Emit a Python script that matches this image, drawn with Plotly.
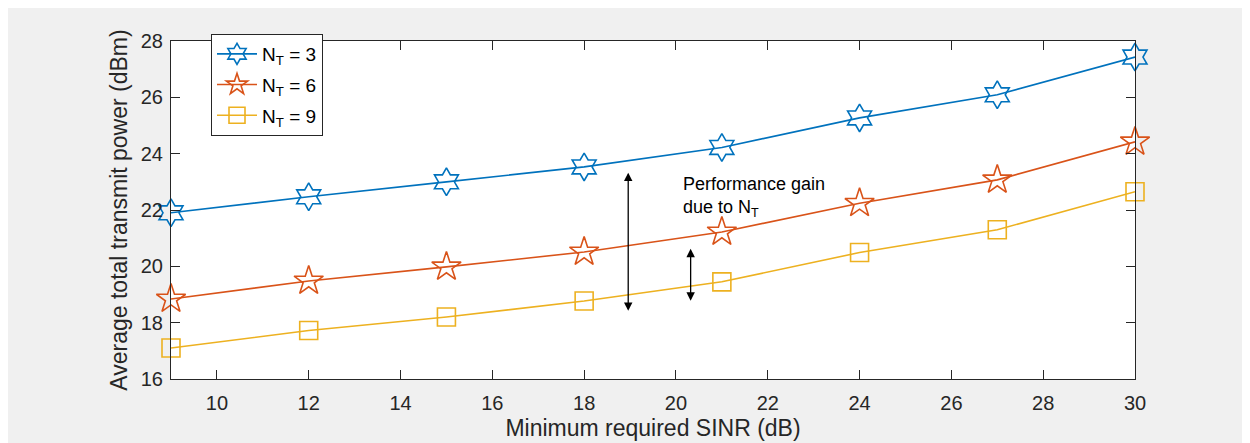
import plotly.graph_objects as go

sinr = [9, 12, 15, 18, 21, 24, 27, 30]
p_nt3 = [21.9, 22.47, 23.0, 23.53, 24.22, 25.27, 26.09, 27.43]
p_nt6 = [18.84, 19.48, 19.98, 20.51, 21.22, 22.24, 23.07, 24.42]
p_nt9 = [17.1, 17.72, 18.2, 18.77, 19.45, 20.49, 21.3, 22.65]
series_names = ["N<sub>T</sub> = 3", "N<sub>T</sub> = 6", "N<sub>T</sub> = 9"]
colors = ["#0072BD", "#D95319", "#EDB120"]
symbols = ["hexagram-open", "star-open", "square-open"]
sizes = [21, 22, 18]

FONT = "Liberation Sans, Arial"

fig = go.Figure()
for i, (ys, name, c, s, sz) in enumerate(zip([p_nt3, p_nt6, p_nt9], series_names, colors, symbols, sizes)):
    fig.add_trace(go.Scatter(
        x=sinr, y=ys, mode="lines+markers", name=name, legendgroup=f"g{i}",
        line=dict(color=c, width=1.6), cliponaxis=False,
        marker=dict(symbol=s, size=sz, color=c, line=dict(color=c, width=1.6)),
    ))

# double-headed arrows
for (xa, y0, y1) in [(18.96, 23.38, 18.42), (20.32, 20.68, 18.78)]:
    fig.add_annotation(x=xa, y=y1, ax=xa, ay=y0, xref="x", yref="y", axref="x", ayref="y",
                       showarrow=True, arrowhead=2, startarrowhead=2, arrowside="end+start",
                       arrowsize=1.3, arrowwidth=1.3, arrowcolor="black", text="")

fig.add_annotation(x=20.12, y=22.45, xref="x", yref="y", xanchor="left", yanchor="middle",
                   text="Performance gain<br>due to N<sub>T</sub>", showarrow=False, align="left",
                   font=dict(size=18, color="#000000", family=FONT))

W, H = 1250, 443
L, R, T, B = 163, 123, 33, 72
pw, ph = W - L - R, H - T - B

axis_common = dict(showgrid=False, zeroline=False, showline=True, linecolor="#262626", linewidth=1,
                   ticks="inside", ticklen=9, tickcolor="#262626", mirror="allticks",
                   tickfont=dict(size=20, color="#262626", family=FONT))
fig.update_xaxes(range=[9, 30], tickvals=list(range(10, 31, 2)),
                 title=dict(text="Minimum required SINR (dB)", font=dict(size=23, color="#262626",
                            family=FONT), standoff=6),
                 ticklabelstandoff=6, **axis_common)
fig.update_yaxes(range=[16, 28], tickvals=list(range(16, 29, 2)),
                 title=dict(text="Average total transmit power (dBm)", font=dict(size=23, color="#262626",
                            family=FONT), standoff=6),
                 ticklabelstandoff=3, **axis_common)

fig.update_layout(
    width=W, height=H, margin=dict(l=L, r=R, t=T, b=B),
    paper_bgcolor="#f0f0f0", plot_bgcolor="white",
    font=dict(family=FONT, color="#262626"),
    legend=dict(x=(203 - L) / pw, y=1 + 7 / ph, xanchor="left", yanchor="top",
                bgcolor="white", bordercolor="#262626", borderwidth=1,
                font=dict(size=19, color="#000000", family=FONT), itemwidth=40, tracegroupgap=3),
    showlegend=True,
)

fig.write_html("out.html")
